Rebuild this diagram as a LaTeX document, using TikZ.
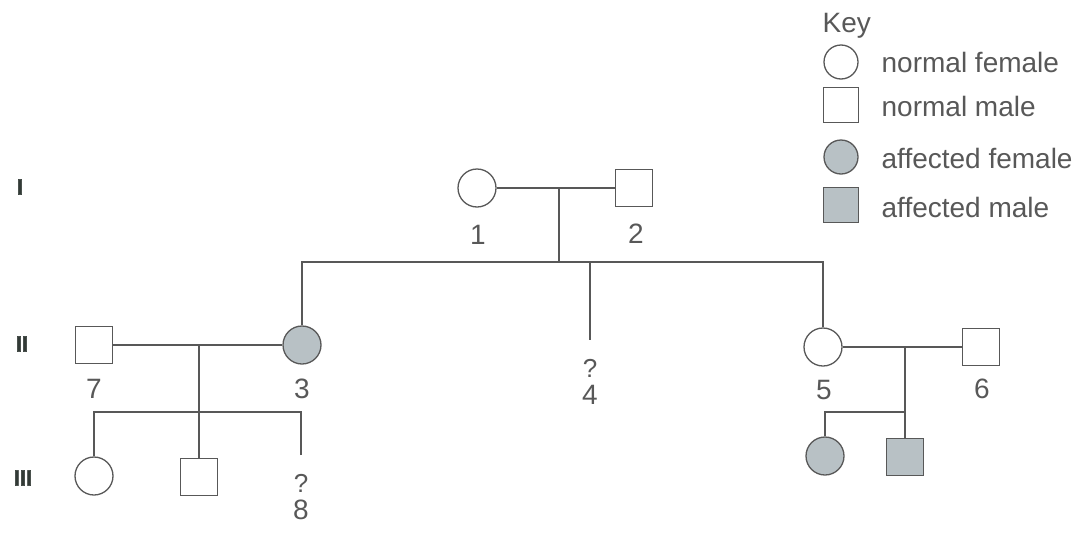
\documentclass[tikz,border=0pt]{standalone}
\usepackage{fontspec}
\setmainfont{Liberation Sans}
\newfontfamily\genfont{Liberation Sans Bold}[FakeBold=2.5]
\usetikzlibrary{positioning}
\definecolor{ink}{RGB}{88,88,88}
\definecolor{genink}{RGB}{50,58,54}
\definecolor{affect}{RGB}{184,193,197}

\begin{document}
\begin{tikzpicture}[x=1pt,y=-1pt,
  line width=1.3pt,color=ink,
  female/.style={circle,draw=ink,minimum size=38pt,inner sep=0pt},
  male/.style={rectangle,draw=ink,minimum size=37pt,inner sep=0pt},
  aff/.style={fill=affect},
  num/.style={font=\fontsize{28}{32}\selectfont,text=ink,inner sep=0pt},
  qmark/.style={font=\fontsize{26}{30}\selectfont,text=ink,inner sep=0pt},
  gen/.style={font=\fontsize{22}{26}\genfont,text=genink,inner sep=0pt},
  keytext/.style={num,anchor=west},
]
\useasboundingbox (0,0) rectangle (1082,536);

% Generation labels
\node[gen] (gI)   at (20,187) {I};
\node[gen] (gII)  at (22,344) {II};
\node[gen] (gIII) at (23,478) {III};

% Generation I
\node[female] (I1) at (477,188) {};
\node[male]   (I2) at (634,188) {};
\node[num] (n1) at (478,235) {1};
\node[num] (n2) at (636,234) {2};
\coordinate (m1) at (559,188);
\coordinate (s1) at (559,262);
\coordinate (c4) at (590,262);
\coordinate (e4) at (590,340);
\draw (I1) -- (I2);
\draw (m1) -- (s1);

% Generation II
\node[male]       (II7) at (94,345) {};
\node[female,aff] (II3) at (302,345) {};
\node[female]     (II5) at (823,347) {};
\node[male]       (II6) at (981,347) {};
\node[num] (n7) at (94,389) {7};
\node[num] (n3) at (302,389) {3};
\node[qmark] (q4) at (590,368) {?};
\node[num] (n4) at (590,395) {4};
\node[num] (n5) at (824,390) {5};
\node[num] (n6) at (982,389) {6};
\draw (II3) |- (s1);
\draw (II5) |- (s1);
\draw (c4) -- (e4);
\draw (II7) -- (II3);
\draw (II5) -- (II6);
\coordinate (m2) at (199,345);
\coordinate (s2) at (199,412);
\coordinate (m3) at (905,347);
\coordinate (s3) at (905,412);
\draw (m2) -- (s2);
\draw (m3) -- (s3);

% Generation III
\node[female]     (III1) at (94,476) {};
\node[male]       (III2) at (199,477) {};
\coordinate (e8) at (301,455);
\node[qmark] (q8) at (301,483) {?};
\node[num]   (n8) at (301,510) {8};
\node[female,aff] (III3) at (825,456) {};
\node[male,aff]   (III4) at (905,457) {};
\draw (III1) |- (s2);
\draw (s2) -- (III2);
\draw (e8) |- (s2);
\draw (III3) |- (s3);
\draw (s3) -- (III4);

% Key
\node[num,anchor=west] (key) at (822,26) {Key};
\node[female,minimum size=34pt]     (k1) at (841,62) {};
\node[male,minimum size=35pt]       (k2) at (841,105) {};
\node[female,aff,minimum size=34pt] (k3) at (841,157) {};
\node[male,aff,minimum size=35pt]   (k4) at (841,205) {};
\node[keytext] (t1) at (881,62)  {normal female};
\node[keytext] (t2) at (881,106) {normal male};
\node[keytext] (t3) at (881,158) {affected female};
\node[keytext] (t4) at (881,207) {affected male};

\end{tikzpicture}
\end{document}
